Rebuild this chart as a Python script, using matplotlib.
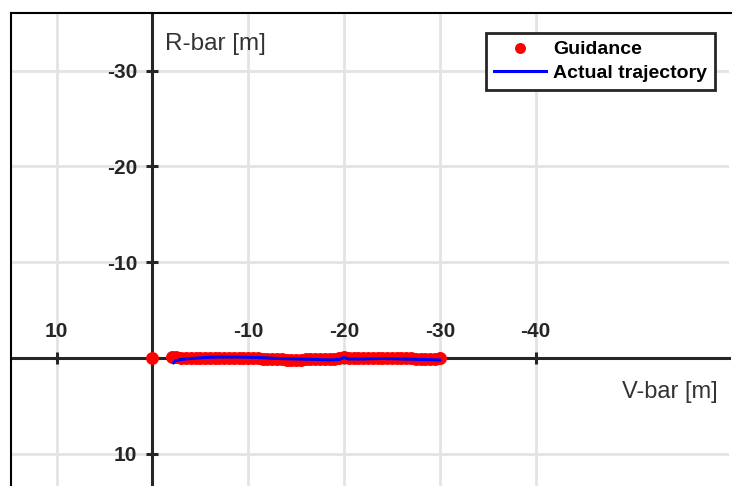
import matplotlib.pyplot as plt
from matplotlib.lines import Line2D

plt.rcParams["font.family"] = ["Liberation Sans", "DejaVu Sans"]
plt.rcParams["axes.unicode_minus"] = False

# guidance points (V-bar, R-bar) in metres
GUIDE_V = [0.0, -2.0, -2.5, -3.0, -3.5, -4.0, -4.5, -5.0, -5.5, -6.0, -6.5,
           -7.0, -7.5, -8.0, -8.5, -9.0, -9.5, -10.0, -10.5, -11.0, -11.5,
           -12.0, -12.5, -13.0, -13.5, -14.0, -14.5, -15.0, -15.5, -16.0,
           -16.5, -17.0, -17.5, -18.0, -18.5, -19.0, -19.5, -20.0, -20.5,
           -21.0, -21.5, -22.0, -22.5, -23.0, -23.5, -24.0, -24.5, -25.0,
           -25.5, -26.0, -26.5, -27.0, -27.5, -28.0, -28.5, -29.0, -29.5, -30.0]
GUIDE_R = [0.0, -0.1, -0.1, -0.05, -0.05, -0.05, -0.05, -0.05, 0.0, 0.0, 0.0,
           0.0, 0.0, 0.0, 0.0, 0.0, 0.0, 0.0, 0.05, 0.05, 0.1,
           0.1, 0.15, 0.15, 0.15, 0.2, 0.2, 0.2, 0.2, 0.15,
           0.15, 0.15, 0.15, 0.15, 0.15, 0.1, 0.05, -0.1, 0.0,
           0.0, 0.0, 0.05, 0.05, 0.05, 0.05, 0.05, 0.05, 0.05,
           0.05, 0.05, 0.05, 0.05, 0.1, 0.1, 0.1, 0.1, 0.1, 0.05]

# actual trajectory
TRAJ_V = [-2.2, -2.4, -3.0, -4.0, -5.5, -7.0, -9.0, -11.0, -13.0, -15.0,
          -17.0, -18.5, -19.5, -20.0, -20.5, -22.0, -24.0, -26.0, -28.0, -30.0]
TRAJ_R = [0.5, 0.3, 0.15, 0.05, -0.05, -0.1, -0.1, -0.05, 0.05, 0.1,
          0.15, 0.2, 0.15, -0.05, 0.1, 0.1, 0.05, 0.1, 0.15, 0.2]

X_TICKS = [10, -10, -20, -30, -40]
Y_TICKS = [-30, -20, -10, 10]

W, H = 732, 486
fig = plt.figure(figsize=(W / 100, H / 100), dpi=100)
ax = fig.add_axes([11 / W, 0, (729 - 11) / W, (486 - 13) / H])

ax.plot(GUIDE_V, GUIDE_R, "o", color="#ff0000", markersize=9.3,
        markeredgewidth=0, label="Guidance", zorder=3)
ax.plot(TRAJ_V, TRAJ_R, "-", color="#0000ff", linewidth=2.2,
        label="Actual trajectory", zorder=4)

ax.set_xlim(14.77, -60.2)
ax.set_ylim(13.37, -36.03)

ax.set_xticks(X_TICKS)
ax.set_yticks(Y_TICKS)
ax.grid(True, color="#e3e3e3", linewidth=2)
ax.set_axisbelow(True)

dark = "#262626"
ax.spines["left"].set_position(("data", 0))
ax.spines["top"].set_position(("data", 0))
ax.spines["right"].set_visible(False)
ax.spines["bottom"].set_visible(False)
for s in ("left", "top"):
    ax.spines[s].set_color(dark)
    ax.spines[s].set_linewidth(2.2)
    ax.spines[s].set_zorder(2)
ax.xaxis.set_ticks_position("top")
ax.yaxis.set_ticks_position("left")
ax.tick_params(axis="both", direction="inout", length=9, width=2.2,
               color=dark, labelcolor=dark, labelsize=15)
ax.tick_params(axis="y", pad=6.5)
ax.tick_params(axis="x", pad=8)
for lab in ax.get_xticklabels() + ax.get_yticklabels():
    lab.set_fontweight("bold")

ax.text(-1.35, -32.8, "R-bar [m]", fontsize=17.5, color="#333333",
        ha="left", va="center")
ax.text(-59.0, 3.6, "V-bar [m]", fontsize=17, color="#333333",
        ha="right", va="center")

leg = ax.legend(loc="upper right", bbox_to_anchor=((715 - 11) / 718, (486 - 33) / 473),
                borderaxespad=0, fancybox=False, framealpha=1,
                edgecolor=dark, prop={"weight": "bold", "size": 14},
                handlelength=2.7, handletextpad=0.35, labelspacing=0.3,
                borderpad=0.4, markerscale=0.85)
leg.get_frame().set_linewidth(2)

# outer frame (top and left edges)
fig.add_artist(Line2D([11 / W, 1], [1 - 13 / H, 1 - 13 / H], color="black", lw=1.5))
fig.add_artist(Line2D([11 / W, 11 / W], [0, 1 - 13 / H], color="black", lw=1.5))

fig.savefig("out.png", dpi=100)
